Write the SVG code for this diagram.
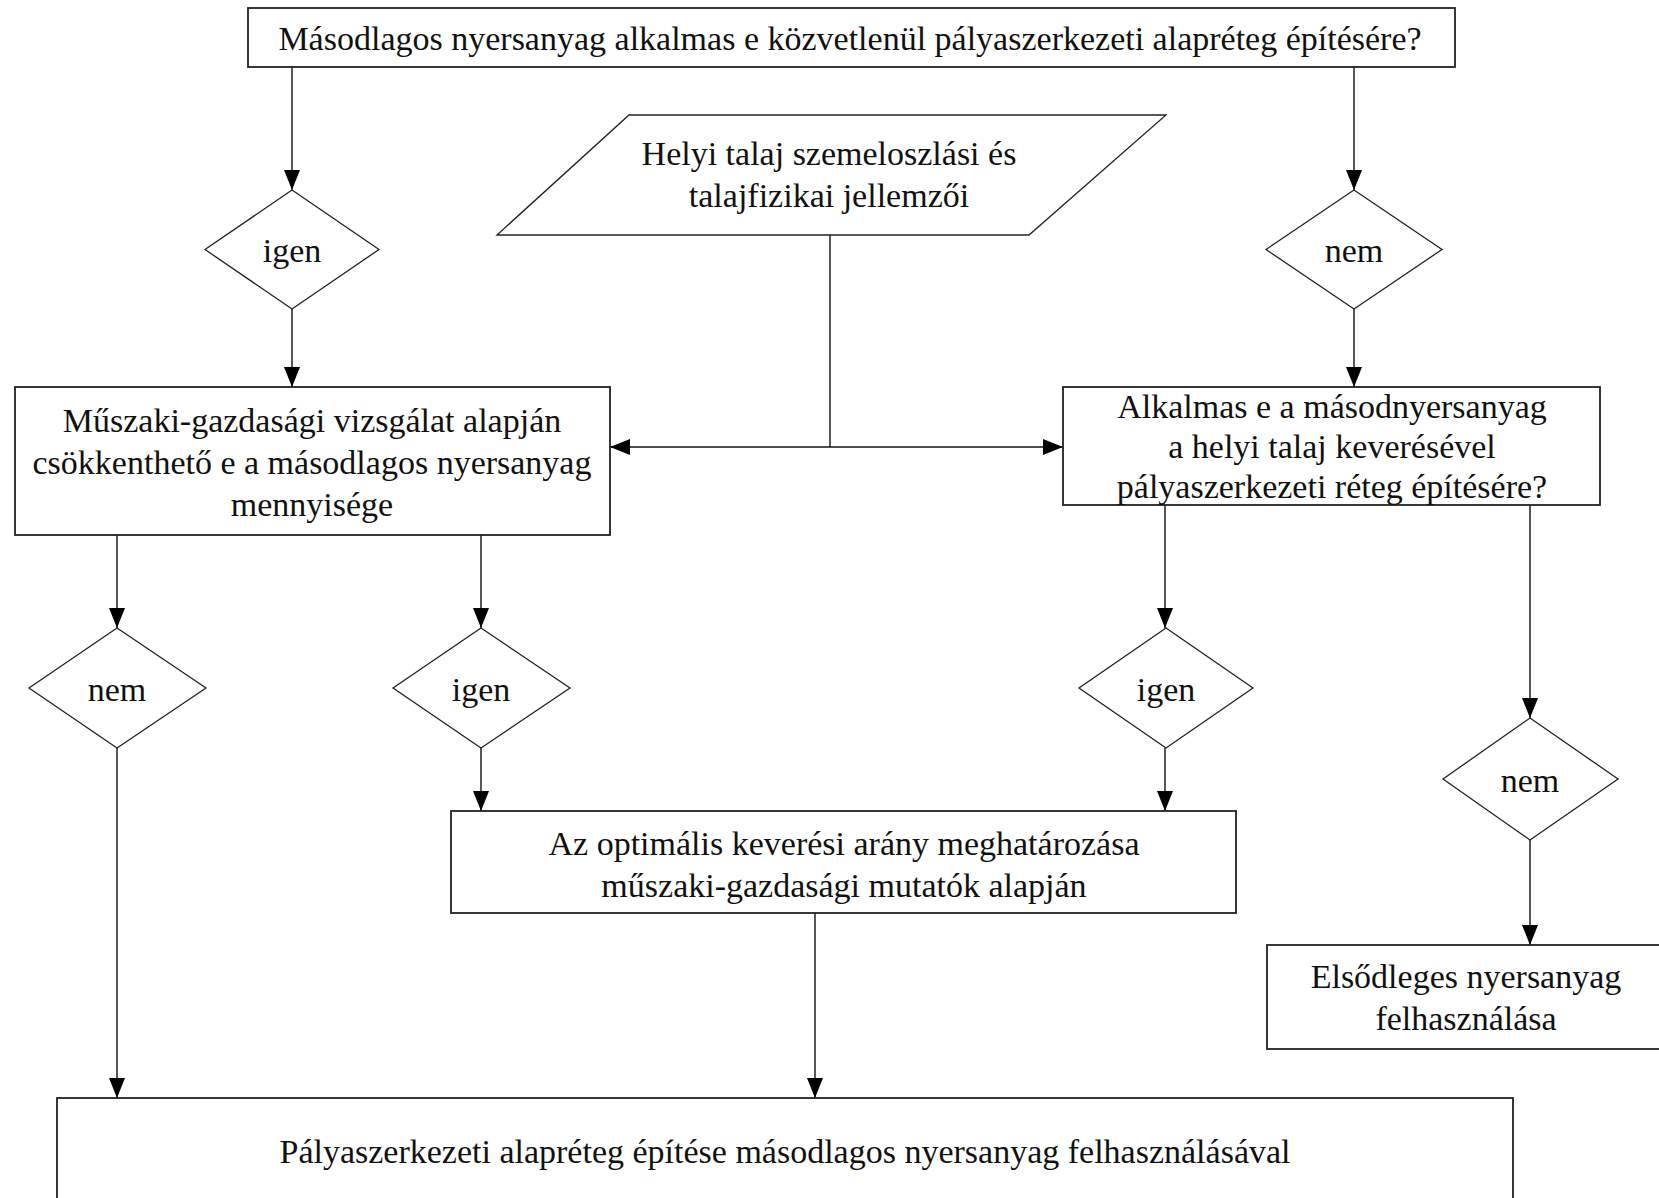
<svg xmlns="http://www.w3.org/2000/svg" width="1659" height="1198" viewBox="0 0 1659 1198">
<style>
.box{fill:#fff;stroke:#222;stroke-width:1.8}
.dia{fill:#fff;stroke:#222;stroke-width:1.3}
.t{font-family:"Liberation Serif","Times New Roman",serif;font-size:34px;fill:#111;text-anchor:middle}
.c{fill:none;stroke:#111;stroke-width:1.4}
.ca{fill:none;stroke:#111;stroke-width:1.4;marker-end:url(#ah)}
</style>
<defs>
<marker id="ah" markerWidth="20" markerHeight="16" refX="20" refY="8" orient="auto" markerUnits="userSpaceOnUse">
<path d="M0,0 L20,8 L0,16 z" fill="#000"/>
</marker>
</defs>
<rect width="1659" height="1198" fill="#fff"/>
<g id="connectors">
<line class="ca" x1="292" y1="67" x2="292" y2="190"/>
<line class="ca" x1="1354" y1="67" x2="1354" y2="190"/>
<line class="ca" x1="292" y1="309" x2="292" y2="387"/>
<line class="ca" x1="1354" y1="309" x2="1354" y2="387"/>
<line class="c" x1="830" y1="235" x2="830" y2="447"/>
<line class="ca" x1="830" y1="447" x2="610" y2="447"/>
<line class="ca" x1="830" y1="447" x2="1063" y2="447"/>
<line class="ca" x1="117" y1="535" x2="117" y2="628"/>
<line class="ca" x1="481" y1="535" x2="481" y2="628"/>
<line class="ca" x1="1165" y1="505" x2="1165" y2="628"/>
<line class="ca" x1="1530" y1="505" x2="1530" y2="718"/>
<line class="ca" x1="117" y1="748" x2="117" y2="1098"/>
<line class="ca" x1="481" y1="748" x2="481" y2="811"/>
<line class="ca" x1="1165" y1="748" x2="1165" y2="811"/>
<line class="ca" x1="1530" y1="840" x2="1530" y2="945"/>
<line class="ca" x1="815" y1="913" x2="815" y2="1098"/>
</g>
<g id="n_top">
<rect class="box" x="248" y="8" width="1207" height="59"/>
<text class="t" x="850" y="50">Másodlagos nyersanyag alkalmas e közvetlenül pályaszerkezeti alapréteg építésére?</text>
</g>
<g id="n_input">
<polygon class="box" points="629,115 1166,115 1029,235 497,235" style="stroke-width:1.3"/>
<text class="t" x="829" y="165">Helyi talaj szemeloszlási és</text>
<text class="t" x="829" y="207">talajfizikai jellemzői</text>
</g>
<g id="d_igen1">
<polygon class="dia" points="292,190 379,249.5 292,309 205,249.5"/>
<text class="t" x="292" y="262">igen</text>
</g>
<g id="d_nem1">
<polygon class="dia" points="1354,190 1442,249.5 1354,309 1266,249.5"/>
<text class="t" x="1354" y="262">nem</text>
</g>
<g id="n_muszaki">
<rect class="box" x="15" y="387" width="595" height="148"/>
<text class="t" x="312" y="432">Műszaki-gazdasági vizsgálat alapján</text>
<text class="t" x="312" y="474">csökkenthető e a másodlagos nyersanyag</text>
<text class="t" x="312" y="516">mennyisége</text>
</g>
<g id="n_alkalmas">
<rect class="box" x="1063" y="387" width="537" height="118"/>
<text class="t" x="1332" y="418">Alkalmas e a másodnyersanyag</text>
<text class="t" x="1332" y="458">a helyi talaj keverésével</text>
<text class="t" x="1332" y="498">pályaszerkezeti réteg építésére?</text>
</g>
<g id="d_nem2">
<polygon class="dia" points="117,628 206,688 117,748 29,688"/>
<text class="t" x="117" y="701">nem</text>
</g>
<g id="d_igen2">
<polygon class="dia" points="481,628 570,688 481,748 393,688"/>
<text class="t" x="481" y="701">igen</text>
</g>
<g id="d_igen3">
<polygon class="dia" points="1166,628 1253,688 1166,748 1079,688"/>
<text class="t" x="1166" y="701">igen</text>
</g>
<g id="d_nem3">
<polygon class="dia" points="1530,718 1618,779 1530,840 1443,779"/>
<text class="t" x="1530" y="792">nem</text>
</g>
<g id="n_optimal">
<rect class="box" x="451" y="811" width="785" height="102"/>
<text class="t" x="844" y="855">Az optimális keverési arány meghatározása</text>
<text class="t" x="844" y="897">műszaki-gazdasági mutatók alapján</text>
</g>
<g id="n_elsodleges">
<rect class="box" x="1267" y="945" width="400" height="104"/>
<text class="t" x="1466" y="988">Elsődleges nyersanyag</text>
<text class="t" x="1466" y="1030">felhasználása</text>
</g>
<g id="n_bottom">
<rect class="box" x="57" y="1098" width="1456" height="120"/>
<text class="t" x="785" y="1163">Pályaszerkezeti alapréteg építése másodlagos nyersanyag felhasználásával</text>
</g>
</svg>
